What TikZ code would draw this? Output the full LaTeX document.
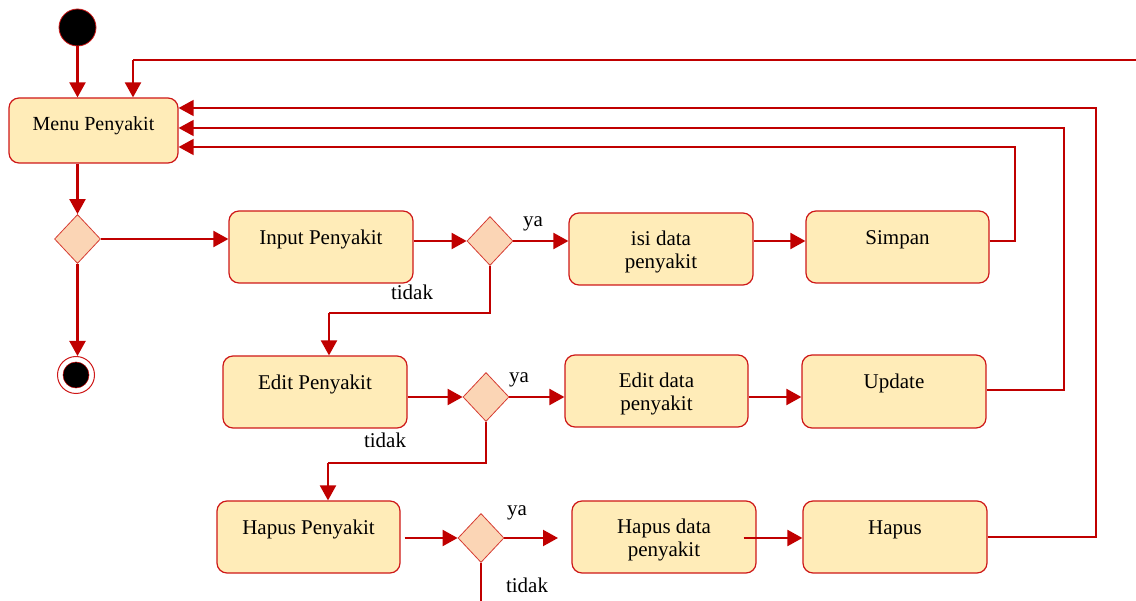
\documentclass[tikz,border=0pt]{standalone}
\usepackage{fontspec}
\setmainfont{Liberation Serif}
\usetikzlibrary{arrows.meta,shapes.geometric}
\definecolor{flowred}{RGB}{192,0,0}
\definecolor{boxline}{RGB}{206,24,24}
\definecolor{boxfill}{RGB}{255,236,184}
\definecolor{decfill}{RGB}{251,213,181}
\definecolor{decline}{RGB}{214,60,50}

\begin{document}
\begin{tikzpicture}[x=1pt,y=-1pt,
  action/.style={draw=boxline, line width=1.2pt, fill=boxfill, rounded corners=10pt,
    minimum width=184pt, minimum height=72pt, inner sep=0pt,
    font=\fontsize{21}{23}\selectfont},
  oneline/.style={action, text height=15pt, text depth=20pt},
  twoline/.style={action, align=center, text height=42pt, text depth=3.3pt},
  decision/.style={diamond, draw=decline, line width=0.8pt, fill=decfill,
    minimum width=46pt, minimum height=49pt, inner sep=0pt},
  flow/.style={draw=flowred, line width=2.2pt, -{Triangle[length=15pt,width=16pt]}},
  back/.style={draw=flowred, line width=1.6pt, -{Triangle[length=15pt,width=16pt]}},
  plain/.style={draw=flowred, line width=1.3pt},
  guard/.style={font=\fontsize{21}{23}\selectfont, anchor=base, inner sep=0pt}]

\useasboundingbox (0,0) rectangle (1136,601);

% initial and final states
\node[circle, fill=black, draw=boxline, line width=0.8pt, minimum size=37pt, inner sep=0pt] (start) at (77.5,27.5) {};
\node[circle, draw=boxline, fill=white, line width=1pt, minimum size=37pt, inner sep=0pt] (stop) at (76,375) {};
\node[circle, fill=black, draw=flowred, line width=0.5pt, minimum size=26pt, inner sep=0pt] (stopdot) at (stop) {};

% actions
\node[oneline, minimum width=169pt, minimum height=65pt, font=\fontsize{20}{22}\selectfont, text depth=14pt] (menu) at (93.5,130.5) {Menu Penyakit};
\node[decision] (d1) at (77.5,239) {};

\node[oneline] (input) at (321,247) {Input Penyakit};
\node[decision] (d2) at (490,241) {};
\node[twoline] (isi) at (661,249) {isi data\\penyakit};
\node[oneline, minimum width=183pt] (simpan) at (897.5,247) {Simpan};

\node[oneline] (edit) at (315,392) {Edit Penyakit};
\node[decision] (d3) at (486,397) {};
\node[twoline, minimum width=183pt] (editdata) at (656.5,391) {Edit data\\penyakit};
\node[oneline, minimum height=73pt] (update) at (894,391.5) {Update};

\node[oneline, minimum width=183pt] (hapusp) at (308.5,537) {Hapus Penyakit};
\node[decision] (d4) at (481,538) {};
\node[twoline] (hapusdata) at (664,537) {Hapus data\\penyakit};
\node[oneline] (hapus) at (895,537) {Hapus};

% bend points of the connectors
\coordinate (topin) at (1136,60);
\coordinate (j0) at (133,60);
\coordinate (r1) at (1015,147);
\coordinate (r2) at (1064,128);
\coordinate (r3) at (1096,108);
\coordinate (k1) at (329,313);
\coordinate (k2) at (328,463);
\coordinate (g4) at (558,538);
\coordinate (bottomout) at (481,601);

% main flow
\draw[flow] (start.south) -- (start.south |- menu.north);
\draw[plain] (topin) -- (j0);
\draw[flow] (j0) -- (j0 |- menu.north);
\draw[flow] (menu.south -| d1) -- (d1.north);
\draw[flow] (d1.east) -- (d1.east -| input.west);
\draw[flow] (d1.south) -- (d1.south |- stop.north);

% input branch
\draw[flow] (input.east |- d2) -- (d2.west);
\draw[flow] (d2.east) -- (d2.east -| isi.west);
\draw[flow] (isi.east |- d2) -- (simpan.west |- d2);
\draw[back] ([yshift=6pt]simpan.east) -| (r1) -- (r1 -| menu.east);
\draw[plain] (d2.south) |- (k1);
\draw[flow] (k1) -- (k1 |- edit.north);

% edit branch
\draw[flow] (edit.east |- d3) -- (d3.west);
\draw[flow] (d3.east) -- (d3.east -| editdata.west);
\draw[flow] (editdata.east |- d3) -- (update.west |- d3);
\draw[back] ([yshift=1.5pt]update.east) -| (r2) -- (r2 -| menu.east);
\draw[plain] (d3.south) |- (k2);
\draw[flow] (k2) -- (k2 |- hapusp.north);

% delete branch
\draw[flow] ([xshift=4pt]hapusp.east |- d4) -- (d4.west);
\draw[flow] (d4.east) -- (g4);
\draw[flow] ([xshift=-13pt]hapusdata.east |- d4) -- (hapus.west |- d4);
\draw[back] (hapus.east) -| (r3) -- (r3 -| menu.east);
\draw[plain] (d4.south) -- (bottomout);

% guards
\node[guard] (ya1) at (533,227) {ya};
\node[guard] (tidak1) at (412,300) {tidak};
\node[guard] (ya2) at (519,383) {ya};
\node[guard] (tidak2) at (385,448) {tidak};
\node[guard] (ya3) at (517,515) {ya};
\node[guard] (tidak3) at (527,592) {tidak};

\end{tikzpicture}
\end{document}
